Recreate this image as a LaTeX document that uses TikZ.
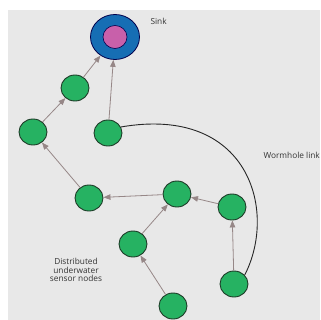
\documentclass[tikz,border=0pt]{standalone}
\usepackage{fontspec}
\setmainfont{Open Sans}
\usetikzlibrary{shapes.geometric,arrows.meta}
\definecolor{bg}{RGB}{232,232,232}
\definecolor{nodegreen}{RGB}{38,178,98}
\definecolor{nodeedge}{RGB}{30,60,40}
\definecolor{sinkblue}{RGB}{22,110,180}
\definecolor{sinkpink}{RGB}{200,96,170}
\definecolor{arrowc}{RGB}{150,135,135}
\tikzset{
  sensor/.style={ellipse,draw=nodeedge,line width=0.9pt,fill=nodegreen,minimum width=28pt,minimum height=26pt,inner sep=0pt},
  link/.style={draw=arrowc,line width=0.8pt,-{Triangle[length=7pt,width=5.5pt]}},
  worm/.style={draw=black!85,line width=0.9pt},
  lbl/.style={font=\fontsize{8.3}{8.8}\selectfont,text=black!80,align=center}
}
\begin{document}
\begin{tikzpicture}[x=1pt,y=-1pt]
\useasboundingbox (0,0) rectangle (320,320);
\fill[bg] (8,10) rectangle (320,320);
\node[ellipse,draw=black!70!blue,line width=0.8pt,fill=sinkblue,minimum width=49pt,minimum height=45pt,inner sep=0pt] (sink) at (115,37) {};
\node[ellipse,draw=black!70!blue,line width=0.6pt,fill=sinkpink,minimum width=24pt,minimum height=23pt,inner sep=0pt] (core) at (115,37) {};
\node[lbl,anchor=west] (sinklbl) at (147,21) {Sink};
\node[sensor] (a) at (75,88) {};
\node[sensor] (b) at (33,132) {};
\node[sensor] (c) at (108,133) {};
\node[sensor] (d) at (89,198) {};
\node[sensor] (e) at (177,194) {};
\node[sensor] (f) at (232,207) {};
\node[sensor] (g) at (133,244) {};
\node[sensor] (h) at (234,284) {};
\node[sensor] (i) at (173,306) {};
\node[lbl,anchor=west] (wl) at (260,155) {Wormhole link};
\node[lbl] (dl) at (76,270) {Distributed\\underwater\\sensor nodes};
\draw[link] (a) -- (sink);
\draw[link] (b) -- (a);
\draw[link] (c) -- (sink);
\draw[link] (d) -- (b);
\draw[link] (e) -- (d);
\draw[link] (f) -- (e);
\draw[link] (g) -- (e);
\draw[link] (i) -- (g);
\draw[link] (h) -- (f);
\draw[worm] (c.25) .. controls (248,105) and (278,210) .. (h.40);
\end{tikzpicture}
\end{document}
